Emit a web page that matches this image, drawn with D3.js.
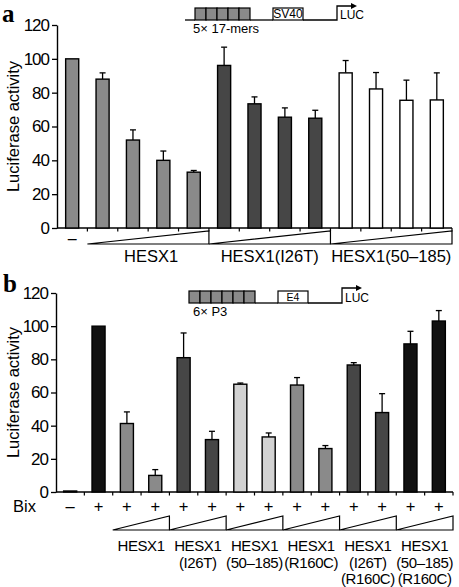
<!DOCTYPE html>
<html><head><meta charset="utf-8">
<script src="https://cdn.jsdelivr.net/npm/d3@7"></script>
<style>body{margin:0;background:#fff}svg{display:block}text{font-family:"Liberation Sans",Arial,sans-serif;fill:#000}</style>
</head><body>
<svg id="c" width="459" height="587"></svg>
<script>
// ---------- Data: panel a ----------
const aGroupLabels = ["HESX1", "HESX1(I26T)", "HESX1(50–185)"];
const aSeries = ["ctrl","wt","wt","wt","wt","i26t","i26t","i26t","i26t","d50","d50","d50","d50"];
const aValues = [100, 88, 52, 40, 33, 96.1, 73.4, 65.5, 64.9, 91.7, 82.2, 75.5, 75.7];
const aErrTop = [100, 91.7, 58, 45.5, 34, 106.9, 77.5, 71, 69.6, 99, 91.9, 87.4, 91.7];
const aYTicks = [0, 20, 40, 60, 80, 100, 120];

// ---------- Data: panel b ----------
const bGroupLabels = [["HESX1"], ["HESX1","(I26T)"], ["HESX1","(50–185)"], ["HESX1","(R160C)"], ["HESX1","(I26T)","(R160C)"], ["HESX1","(50–185)","(R160C)"]];
const bSeries = ["none","bix","wt","wt","i26t","i26t","d50","d50","r160c","r160c","i26tr","i26tr","d50r","d50r"];
const bValues = [0.6, 100, 41.3, 10, 81, 31.6, 65, 33.2, 64.5, 26.2, 76.6, 47.9, 89.3, 103.1];
const bErrTop = [0.6, 100, 48.3, 13.5, 95.9, 36.6, 65.7, 35.6, 69, 28, 78, 59.3, 96.9, 109.4];
const bBix = ["–","+","+","+","+","+","+","+","+","+","+","+","+","+"];
const bYTicks = [0, 20, 40, 60, 80, 100, 120];

// ---------- Styles ----------
const colorA = d3.scaleOrdinal().domain(["ctrl","wt","i26t","d50"]).range(["#8a8a8a","#8a8a8a","#464646","#ffffff"]);
const colorB = d3.scaleOrdinal().domain(["none","bix","wt","i26t","d50","r160c","i26tr","d50r"])
  .range(["#8a8a8a","#111111","#8a8a8a","#464646","#d2d2d2","#8a8a8a","#464646","#111111"]);

const svg = d3.select("#c");

function panel(cfg) {
  const g = svg.append("g");
  const n = cfg.values.length;
  const x = d3.scaleBand().domain(d3.range(n)).range([cfg.x0, cfg.x1]).paddingInner(cfg.pad).paddingOuter(cfg.pad / 2);
  const y = d3.scaleLinear().domain([0, 120]).range([cfg.yb, cfg.yt]);
  const step = x.step();

  // y axis
  const ya = g.append("g").attr("transform", `translate(${cfg.x0},0)`)
    .call(d3.axisLeft(y).tickValues(cfg.yTicks).tickSize(5).tickPadding(3).tickSizeOuter(0));
  ya.select(".domain").attr("stroke-width", 1.4);
  ya.selectAll(".tick line").attr("stroke-width", 1.3);
  ya.selectAll("text").style("font-size", "17px").style("letter-spacing", "-1px").style("font-family", '"Liberation Sans",Arial,sans-serif');

  // x axis line + ticks at band boundaries
  g.append("line").attr("x1", cfg.x0).attr("x2", cfg.x1).attr("y1", y(0)).attr("y2", y(0)).attr("stroke", "#000").attr("stroke-width", 1.4);
  g.selectAll(".xt").data(d3.range(1, n + 1)).join("line")
    .attr("x1", i => cfg.x0 + i * step).attr("x2", i => cfg.x0 + i * step)
    .attr("y1", y(0)).attr("y2", y(0) + 3.5).attr("stroke", "#000").attr("stroke-width", 1.2);

  // error bars
  const eb = g.selectAll(".eb").data(cfg.values.map((v, i) => ({v, e: cfg.err[i], i})).filter(d => d.e - d.v > 0.05)).join("g");
  eb.append("line").attr("x1", d => x(d.i) + x.bandwidth() / 2).attr("x2", d => x(d.i) + x.bandwidth() / 2)
    .attr("y1", d => y(d.v)).attr("y2", d => y(d.e)).attr("stroke", "#000").attr("stroke-width", 1.3);
  eb.append("line").attr("x1", d => x(d.i) + x.bandwidth() / 2 - 3).attr("x2", d => x(d.i) + x.bandwidth() / 2 + 3)
    .attr("y1", d => y(d.e)).attr("y2", d => y(d.e)).attr("stroke", "#000").attr("stroke-width", 1.3);

  // bars
  g.selectAll(".bar").data(cfg.values).join("rect")
    .attr("x", (d, i) => x(i)).attr("width", x.bandwidth())
    .attr("y", d => y(d)).attr("height", d => y(0) - y(d))
    .attr("fill", (d, i) => cfg.color(cfg.series[i]))
    .attr("stroke", "#000").attr("stroke-width", 1.4);

  // y label
  g.append("text").attr("transform", `translate(${cfg.ylabX},${(y(0) + y(120)) / 2}) rotate(-90)`)
    .attr("text-anchor", "middle").style("font-size", "16.5px").text("Luciferase activity");

  // triangles
  cfg.tri.forEach(([a, b]) => {
    const xa = cfg.x0 + a * step, xb = cfg.x0 + b * step;
    g.append("path").attr("d", `M${xa},${cfg.triB}L${xb},${cfg.triB}L${xb},${cfg.triT}Z`)
      .attr("fill", "#fff").attr("stroke", "#000").attr("stroke-width", 1.2);
  });
  return {x, y, step};
}

// ---------- Panel a ----------
const A = panel({values: aValues, err: aErrTop, series: aSeries, color: colorA, x0: 57, x1: 452, yb: 228, yt: 25,
  pad: 0.57, yTicks: aYTicks, ylabX: 19, tri: [[1, 5], [5, 9], [9, 13]], triB: 244, triT: 231});
svg.append("text").attr("x", A.x(0) + A.x.bandwidth() / 2).attr("y", 244).attr("text-anchor", "middle").style("font-size", "16px").text("–");
aGroupLabels.forEach((t, k) => {
  svg.append("text").attr("x", 57 + (1 + 4 * k + 2) * A.step + (k === 0 ? 3 : 0)).attr("y", 262).attr("text-anchor", "middle").style("font-size", "16.5px").text(t);
});
svg.append("text").attr("x", 2).attr("y", 22).style("font-family", '"Liberation Serif","Times New Roman",serif').style("font-weight", "bold").style("font-size", "25px").text("a");

// ---------- Panel b ----------
const B = panel({values: bValues, err: bErrTop, series: bSeries, color: colorB, x0: 56, x1: 453, yb: 492, yt: 293,
  pad: 0.54, yTicks: bYTicks, ylabX: 19, tri: [[2, 4], [4, 6], [6, 8], [8, 10], [10, 12], [12, 14]], triB: 530, triT: 516});
svg.append("text").attr("x", 13).attr("y", 512).style("font-size", "16.5px").text("Bix");
bBix.forEach((t, i) => {
  svg.append("text").attr("x", B.x(i) + B.x.bandwidth() / 2).attr("y", 512).attr("text-anchor", "middle").style("font-size", "16.5px").text(t);
});
bGroupLabels.forEach((lines, k) => {
  lines.forEach((t, j) => {
    svg.append("text").attr("x", 56 + (2 + 2 * k + 1) * B.step).attr("y", 551 + j * 16.5).attr("text-anchor", "middle")
      .style("font-size", "15px").style("letter-spacing", "-0.4px").text(t);
  });
});
svg.append("text").attr("x", 3).attr("y", 292).style("font-family", '"Liberation Serif","Times New Roman",serif').style("font-weight", "bold").style("font-size", "25px").text("b");

// ---------- Construct diagrams ----------
function construct(o) {
  const g = svg.append("g");
  const bw = (o.bx1 - o.bx0) / o.nBox;
  if (o.lead) g.append("line").attr("x1", o.lead).attr("x2", o.bx0).attr("y1", o.yb).attr("y2", o.yb).attr("stroke", "#000").attr("stroke-width", 1.3);
  g.selectAll("rect.bx").data(d3.range(o.nBox)).join("rect")
    .attr("x", i => o.bx0 + i * bw).attr("y", o.yt).attr("width", bw).attr("height", o.yb - o.yt)
    .attr("fill", "#8a8a8a").attr("stroke", "#000").attr("stroke-width", 1.2);
  g.append("line").attr("x1", o.bx1).attr("x2", o.px0).attr("y1", o.yb).attr("y2", o.yb).attr("stroke", "#000").attr("stroke-width", 1.3);
  g.append("rect").attr("x", o.px0).attr("y", o.yt).attr("width", o.px1 - o.px0).attr("height", o.yb - o.yt).attr("fill", "#fff").attr("stroke", "#000").attr("stroke-width", 1.2);
  g.append("text").attr("x", (o.px0 + o.px1) / 2).attr("y", o.yb - 2.5).attr("text-anchor", "middle").style("font-size", o.pfs).text(o.prom);
  g.append("path").attr("d", `M${o.px1},${o.yb}L${o.tx},${o.yb}L${o.tx},${o.ay}L${o.ax - 4},${o.ay}`).attr("fill", "none").attr("stroke", "#000").attr("stroke-width", 1.3);
  g.append("path").attr("d", `M${o.ax},${o.ay}L${o.ax - 6},${o.ay - 3}L${o.ax - 6},${o.ay + 3}Z`).attr("fill", "#000");
  g.append("text").attr("x", o.tx + 3).attr("y", o.yb - 1).style("font-size", "12px").text("LUC");
  g.append("text").attr("x", o.lx).attr("y", o.ly).style("font-size", "13px").text(o.label);
}
construct({lead: 185, bx0: 195, bx1: 250, nBox: 5, yt: 8, yb: 20, px0: 273, px1: 303, prom: "SV40", pfs: "12px",
  tx: 337, ay: 6, ax: 357, lx: 193, ly: 33, label: "5× 17-mers"});
construct({lead: null, bx0: 189, bx1: 255, nBox: 6, yt: 291, yb: 303, px0: 278, px1: 308, prom: "E4", pfs: "10.5px",
  tx: 342, ay: 288, ax: 362, lx: 193, ly: 316, label: "6× P3"});
</script>
</body></html>
